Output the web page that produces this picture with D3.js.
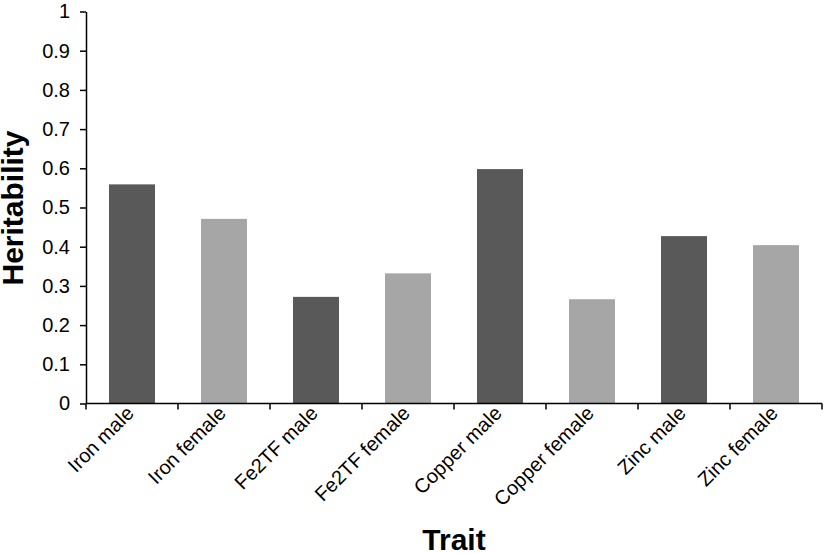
<!DOCTYPE html>
<html><head><meta charset="utf-8">
<script src="https://cdn.jsdelivr.net/npm/d3@7"></script>
<style>body{margin:0;background:#fff}svg{display:block;font-family:Arial,"Liberation Sans",sans-serif}</style>
</head><body>
<svg id="c" width="826" height="553"></svg>
<script>
const categories = ["Iron male","Iron female","Fe2TF male","Fe2TF female","Copper male","Copper female","Zinc male","Zinc female"];
const heritability = [0.559, 0.471, 0.272, 0.332, 0.598, 0.266, 0.427, 0.404];
const sexes = ["male","female","male","female","male","female","male","female"];
const yTicks = [0,0.1,0.2,0.3,0.4,0.5,0.6,0.7,0.8,0.9,1];
const yTickLabels = ["0","0.1","0.2","0.3","0.4","0.5","0.6","0.7","0.8","0.9","1"];
const colors = {male:"#595959", female:"#a6a6a6"};

const svg = d3.select("#c");
const mLeft = 86, mRight = 822, mTop = 11.5, mBottom = 403.5;
const x = d3.scaleBand().domain(categories).range([mLeft,mRight]).paddingInner(0.5).paddingOuter(0.25);
const y = d3.scaleLinear().domain([0,1]).range([mBottom,mTop]);

svg.selectAll("rect.bar").data(categories).enter().append("rect")
  .attr("class","bar")
  .attr("x", d=>x(d)).attr("width", x.bandwidth())
  .attr("y", (d,i)=>y(heritability[i]))
  .attr("height", (d,i)=>y(0)-y(heritability[i]))
  .attr("fill", (d,i)=>colors[sexes[i]]);

// Y axis
const yAxis = d3.axisLeft(y).tickValues(yTicks).tickFormat((d,i)=>yTickLabels[i]).tickSize(6).tickSizeOuter(0).tickPadding(10);
const gy = svg.append("g").attr("transform",`translate(${mLeft},0)`).call(yAxis);
gy.select(".domain").attr("stroke","#000").attr("stroke-width",1.5);
gy.selectAll(".tick line").attr("stroke","#000").attr("stroke-width",1.5);
gy.selectAll(".tick text").attr("font-size",20).attr("fill","#000").attr("font-family","Arial, 'Liberation Sans', sans-serif");

// X axis baseline and boundary ticks
const gx = svg.append("g");
gx.append("line").attr("x1",mLeft).attr("x2",mRight).attr("y1",mBottom).attr("y2",mBottom).attr("stroke","#000").attr("stroke-width",1.5);
const boundaries = categories.map(c=>x(c)-x.step()*x.paddingInner()/2).concat([mRight]);
boundaries[0] = mLeft;
gx.selectAll("line.tk").data(boundaries).enter().append("line").attr("class","tk")
  .attr("x1",d=>d).attr("x2",d=>d).attr("y1",mBottom).attr("y2",mBottom+6).attr("stroke","#000").attr("stroke-width",1.5);
gx.selectAll("text.lbl").data(categories).enter().append("text").attr("class","lbl")
  .attr("transform", d=>`translate(${x(d)+x.bandwidth()/2+3},${mBottom+11}) rotate(-45)`)
  .attr("text-anchor","end").attr("font-size",20).attr("fill","#000")
  .text(d=>d);

// Axis titles
svg.append("text").attr("transform",`translate(${(mLeft+mRight)/2},550)`)
  .attr("text-anchor","middle").attr("font-size",30).attr("font-weight","bold").text("Trait");
svg.append("text").attr("transform",`translate(23,208) rotate(-90)`)
  .attr("text-anchor","middle").attr("font-size",30).attr("font-weight","bold").text("Heritability");
</script>
</body></html>
